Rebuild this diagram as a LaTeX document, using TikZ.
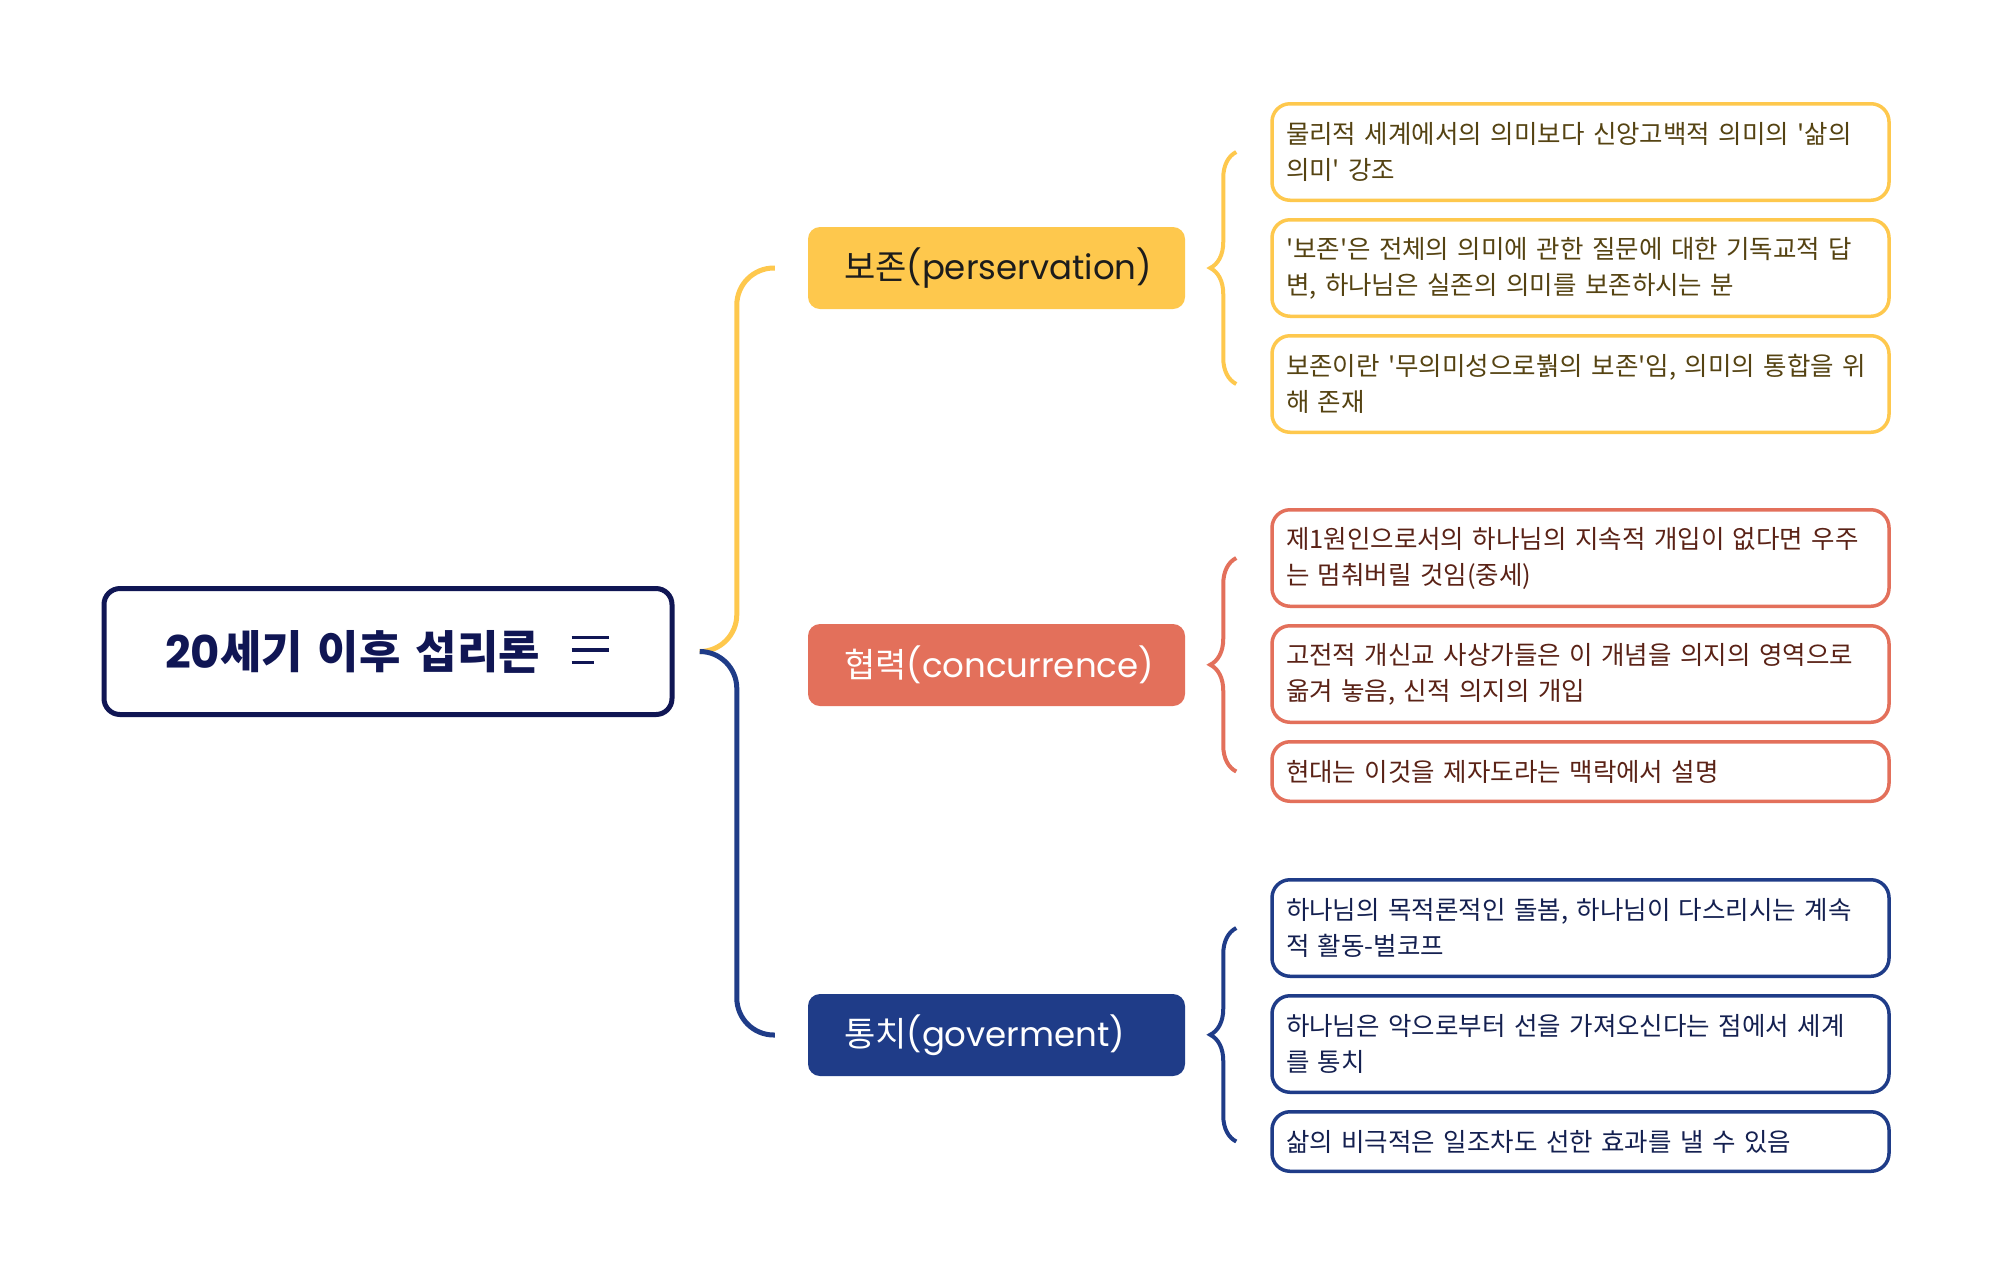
\documentclass[tikz,border=0pt]{standalone}
\usepackage{fontspec}
\setmainfont{Noto Sans CJK KR}[Ligatures=TeXOff]
\newfontfamily\popfont{Poppins}
\usetikzlibrary{positioning,decorations.pathreplacing}

\definecolor{rootnavy}{HTML}{101654}
\definecolor{presyellow}{HTML}{FEC84D}
\definecolor{concred}{HTML}{E3705B}
\definecolor{govnavy}{HTML}{1F3C88}
\definecolor{topicink}{HTML}{1C1C1C}
\definecolor{presink}{HTML}{554312}
\definecolor{concink}{HTML}{5A2216}
\definecolor{govink}{HTML}{142050}

\tikzset{
  rootbox/.style={draw=rootnavy, line width=5pt, rounded corners=16pt, fill=white,
    text=rootnavy, text width=446pt, inner xsep=61pt, minimum height=126pt,
    align=left, font=\fontsize{45}{52}\selectfont\bfseries},
  menuline/.style={rootnavy, line width=3.5pt},
  topicbox/.style={rounded corners=12pt, text width=305pt, inner xsep=36pt,
    minimum height=82pt, align=left, font=\fontsize{34}{40}\selectfont},
  leafbox/.style={draw, line width=3.5pt, rounded corners=18pt, fill=white,
    text width=589pt, inner xsep=14pt, inner ysep=6pt, minimum height=96.5pt,
    align=left, font=\fontsize{25.5}{36}\selectfont},
  leafone/.style={leafbox, minimum height=59.5pt},
  branch/.style={line width=5pt, rounded corners=37pt},
  leafbrace/.style={line width=4pt, decorate, decoration={brace, amplitude=26pt}},
}

\begin{document}
\begin{tikzpicture}[x=1pt,y=-1pt]
  \useasboundingbox[fill=white] (0,0) rectangle (1992,1278);
  % central topic
  \node[rootbox] (root) at (388,651.5) {{\popfont 20}세기 이후 섭리론};
  \draw[menuline] ([xshift=-103pt,yshift=14pt]root.east) -- ++(37,0);
  \draw[menuline] ([xshift=-103pt,yshift=1.5pt]root.east) -- ++(37,0);
  \draw[menuline] ([xshift=-103pt,yshift=-11pt]root.east) -- ++(22,0);

  % preservation
  \node[topicbox, fill=presyellow, text=topicink] (pres) at (996.5,268) {보존{\popfont (perservation)}};
  \node[leafbox, draw=presyellow, text=presink, anchor=north] (pres1) at (1580.5,102)
    {물리적 세계에서의 의미보다 신앙고백적 의미의 '삶의\\의미' 강조};
  \node[leafbox, draw=presyellow, text=presink, below=16pt of pres1] (pres2)
    {'보존'은 전체의 의미에 관한 질문에 대한 기독교적 답\\변, 하나님은 실존의 의미를 보존하시는 분};
  \node[leafbox, draw=presyellow, text=presink, below=16pt of pres2] (pres3)
    {보존이란 '무의미성으로^^^^bda5의 보존'임, 의미의 통합을 위\\해 존재};

  % concurrence
  \node[topicbox, fill=concred, text=white] (conc) at (996.5,665) {협력{\popfont (concurrence)}};
  \node[leafbox, draw=concred, text=concink, anchor=north] (conc1) at (1580.5,508)
    {제1원인으로서의 하나님의 지속적 개입이 없다면 우주\\는 멈춰버릴 것임(중세)};
  \node[leafbox, draw=concred, text=concink, below=16pt of conc1] (conc2)
    {고전적 개신교 사상가들은 이 개념을 의지의 영역으로\\옮겨 놓음, 신적 의지의 개입};
  \node[leafone, draw=concred, text=concink, below=16pt of conc2] (conc3)
    {현대는 이것을 제자도라는 맥락에서 설명};

  % government
  \node[topicbox, fill=govnavy, text=white] (gov) at (996.5,1035) {통치{\popfont (goverment)}};
  \node[leafbox, draw=govnavy, text=govink, anchor=north] (gov1) at (1580.5,878)
    {하나님의 목적론적인 돌봄, 하나님이 다스리시는 계속\\적 활동-벌코프};
  \node[leafbox, draw=govnavy, text=govink, below=16pt of gov1] (gov2)
    {하나님은 악으로부터 선을 가져오신다는 점에서 세계\\를 통치};
  \node[leafone, draw=govnavy, text=govink, below=16pt of gov2] (gov3)
    {삶의 비극적은 일조차도 선한 효과를 낼 수 있음};

  % branches from the central topic
  \coordinate (fork) at ([xshift=28pt]root.east);
  \draw[branch, presyellow] (fork) -| ([xshift=-71pt]pres.west) -- ([xshift=-33pt]pres.west);
  \draw[branch, govnavy] (fork) -| ([xshift=-71pt]gov.west) -- ([xshift=-33pt]gov.west);

  % braces to the details
  \draw[leafbrace, presyellow] ([xshift=-34pt]pres3.west) -- ([xshift=-34pt]pres1.west);
  \draw[leafbrace, concred] ([xshift=-34pt]conc3.west) -- ([xshift=-34pt]conc1.west);
  \draw[leafbrace, govnavy] ([xshift=-34pt]gov3.west) -- ([xshift=-34pt]gov1.west);
\end{tikzpicture}
\end{document}
